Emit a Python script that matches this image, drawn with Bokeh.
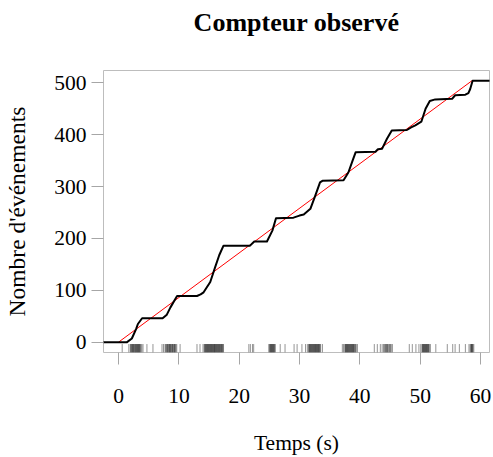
from bokeh.plotting import figure
from bokeh.models import FixedTicker, Range1d, Title
from bokeh.embed import file_html
from bokeh.resources import INLINE

curve_t = [-3.0, 1.4, 2.2, 2.9, 3.2, 3.9, 7.3, 8.0, 8.6, 9.7, 13.0, 13.6, 14.1,
           15.2, 16.0, 16.7, 17.4, 21.8, 22.5, 24.6, 25.5, 26.1, 29.0, 30.0,
           30.7, 31.8, 32.6, 33.4, 33.8, 37.3, 38.1, 38.8, 39.3, 42.6, 43.0,
           43.7, 44.5, 45.3, 47.8, 48.5, 49.2, 50.2, 50.9, 51.6, 52.5, 55.3,
           55.8, 57.5, 58.0, 58.3, 58.7, 62.0]
curve_n = [0, 0, 7, 25, 35, 46, 46, 53, 67, 89, 89, 92, 96,
           116, 144, 168, 186, 186, 194, 194, 215, 239, 240, 244,
           246, 257, 282, 308, 311, 312, 327, 350, 366, 367, 372,
           373, 392, 408, 409, 414, 418, 425, 450, 465, 468, 469,
           476, 477, 480, 488, 504, 504]

# Event times shown as a rug along the bottom (read approximately)
rug_t = [0.6, 1.7, 1.95, 2.05, 2.1, 2.2, 2.3, 2.35, 2.45, 2.5, 2.6, 2.7, 2.75,
         2.85, 2.9, 3.0, 3.05, 3.15, 3.2, 3.3, 3.35, 3.45, 3.5, 3.6, 3.7, 3.85,
         4.05, 4.7, 5.7, 7.2, 7.45, 7.7, 7.8, 7.95, 8.05, 8.1, 8.2, 8.3, 8.4,
         8.45, 8.55, 8.6, 8.7, 8.8, 8.9, 8.95, 9.05, 9.15, 9.25, 9.3, 9.4, 9.5,
         9.65, 10.2, 13.0, 13.5, 14.0, 14.2, 14.3, 14.35, 14.45, 14.5, 14.6,
         14.65, 14.75, 14.8, 14.9, 14.95, 15.05, 15.1, 15.2, 15.25, 15.35,
         15.4, 15.5, 15.55, 15.65, 15.7, 15.8, 15.85, 15.9, 16.0, 16.05, 16.15,
         16.2, 16.3, 16.35, 16.45, 16.5, 16.6, 16.65, 16.75, 16.8, 16.9, 17.0,
         17.05, 17.15, 17.2, 17.3, 17.4, 21.6, 21.85, 22.2, 22.4, 24.9, 25.05,
         25.1, 25.2, 25.25, 25.35, 25.4, 25.5, 25.55, 25.65, 25.7, 25.8, 25.85,
         26.0, 26.8, 27.6, 29.1, 29.6, 30.4, 31.0, 31.3, 31.5, 31.6, 31.65,
         31.75, 31.8, 31.9, 31.95, 32.05, 32.1, 32.2, 32.25, 32.35, 32.4, 32.5,
         32.55, 32.65, 32.7, 32.8, 32.85, 32.95, 33.0, 33.1, 33.15, 33.25, 33.3,
         33.4, 33.5, 33.8, 37.1, 37.3, 37.5, 37.6, 37.65, 37.75, 37.8, 37.9,
         37.95, 38.05, 38.1, 38.2, 38.25, 38.35, 38.4, 38.5, 38.55, 38.65, 38.7,
         38.8, 38.85, 38.95, 39.0, 39.1, 39.2, 39.3, 39.4, 39.6, 42.4, 42.9,
         43.4, 43.7, 43.95, 44.05, 44.2, 44.3, 44.4, 44.5, 44.6, 44.7, 44.85,
         44.95, 45.1, 45.2, 45.4, 48.2, 48.7, 49.3, 49.8, 50.1, 50.3, 50.4,
         50.45, 50.55, 50.6, 50.7, 50.75, 50.85, 50.9, 51.0, 51.05, 51.15, 51.2,
         51.3, 51.35, 51.45, 51.5, 51.7, 52.6, 54.5, 55.4, 55.8, 56.5, 57.5,
         58.1, 58.3, 58.4, 58.5, 58.55, 58.6, 58.7, 58.75, 58.9]

line_end_t = 58.6
total_n = 504

x_ticks = [0, 10, 20, 30, 40, 50, 60]
y_ticks = [0, 100, 200, 300, 400, 500]

xmin, xmax = -2.5, 61.5
ymin, ymax = -20.0, 523.7

FONT = "Liberation Serif"

p = figure(width=493, height=457,
           x_range=Range1d(xmin, xmax), y_range=Range1d(ymin, ymax),
           output_backend="svg", toolbar_location=None,
           min_border_left=103, min_border_right=4,
           min_border_top=70, min_border_bottom=105)

p.background_fill_color = "white"
p.border_fill_color = "white"
p.outline_line_color = "#bdbdbd"
p.outline_line_width = 1
p.grid.visible = False

# spacer title (closest to frame), then the real title above it
p.add_layout(Title(text=" ", text_font_size="15.5px"), "above")
p.add_layout(Title(text="Compteur observé", align="center", text_font=FONT,
                   text_font_size="26px", text_font_style="bold",
                   text_color="black"), "above")

for ax in (p.xaxis[0], p.yaxis[0]):
    ax.axis_line_color = None
    ax.major_tick_line_color = "#a6a6a6"
    ax.major_tick_out = 12
    ax.major_tick_in = 0
    ax.minor_tick_line_color = None
    ax.major_label_text_font = FONT
    ax.major_label_text_font_size = "21.5px"
    ax.major_label_text_color = "black"
    ax.axis_label_text_font = FONT
    ax.axis_label_text_font_size = "21.5px"
    ax.axis_label_text_font_style = "normal"
    ax.axis_label_text_color = "black"

p.yaxis.axis_label_text_font_size = "23.5px"
p.xaxis.ticker = FixedTicker(ticks=x_ticks)
p.yaxis.ticker = FixedTicker(ticks=y_ticks)
p.xaxis.axis_label = "Temps (s)"
p.yaxis.axis_label = "Nombre d'événements"
p.xaxis.major_label_standoff = 24
p.xaxis.axis_label_standoff = 25
p.yaxis.major_label_standoff = 5
p.yaxis.axis_label_standoff = 21

# rug
rug_len = 0.03 * (ymax - ymin)
p.segment(x0=rug_t, y0=[ymin] * len(rug_t), x1=rug_t, y1=[ymin + rug_len] * len(rug_t),
          line_color="black", line_alpha=0.42, line_width=1)

# expected line
p.line([0, line_end_t], [0, total_n], line_color="red", line_width=1)

# observed count
p.line(curve_t, curve_n, line_color="black", line_width=2, line_join="round")

open("out.html", "w").write(file_html(p, INLINE))
